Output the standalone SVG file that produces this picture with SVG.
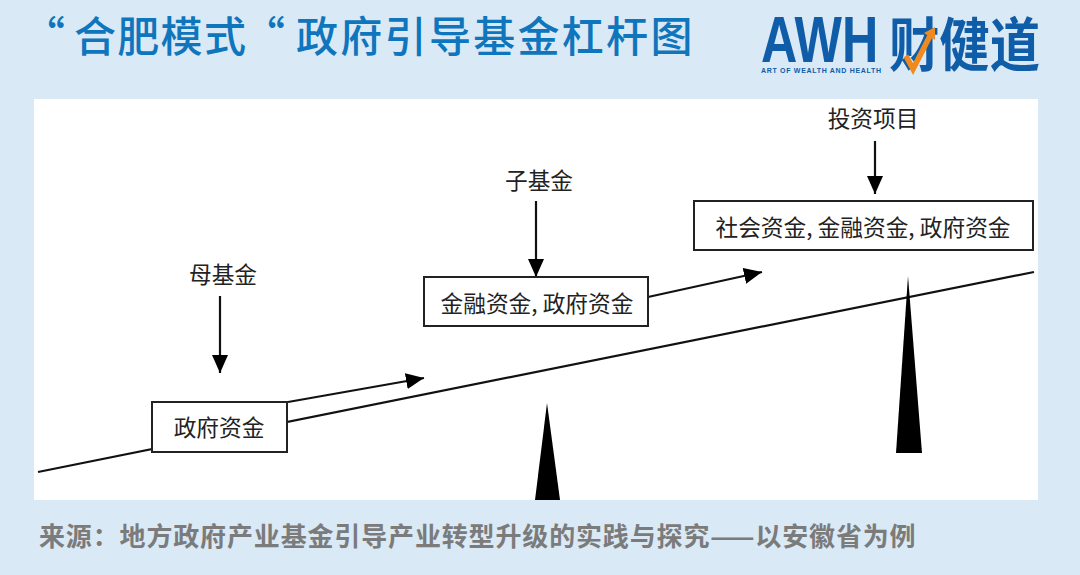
<svg xmlns="http://www.w3.org/2000/svg" width="1080" height="575" viewBox="0 0 1080 575">
<style>
text{font-family:"Noto Sans CJK SC","Noto Sans",sans-serif}
.lbl{font-size:22.7px;fill:#222;text-anchor:middle}
.box{fill:#fff;stroke:#222;stroke-width:2}
.ln{stroke:#111;stroke-width:2.2;fill:none}
.logo{fill:#0f5ca8}
.latin{font-family:"Liberation Sans",sans-serif;font-weight:700}
</style>
<defs>
<marker id="ah" markerUnits="userSpaceOnUse" markerWidth="20" markerHeight="18" refX="18" refY="8" orient="auto"><path d="M0 0L18 8L0 16Z" fill="#000"/></marker>
</defs>
<rect width="1080" height="575" fill="#d9e9f5"/>
<text id="title" y="52" font-size="42" fill="#0f75bc" font-weight="500"><tspan x="23">“</tspan><tspan x="74" letter-spacing="1.3">合肥模式</tspan><tspan x="243">“</tspan><tspan x="296" letter-spacing="2.3">政府引导基金杠杆图</tspan></text>
<g id="logo">
<text class="logo latin" font-size="64" transform="translate(761 62) scale(.785 1)">AWH</text>
<text class="logo latin" x="761" y="73" font-size="7" textLength="120">ART OF WEALTH AND HEALTH</text>
<text class="logo" x="889" y="66" font-size="58" font-weight="700" textLength="151" lengthAdjust="spacingAndGlyphs">财健道</text>
<path d="M906 56L913 69L931 34" fill="none" stroke="#f08a1d" stroke-width="5.5"/>
<path d="M924 33L935 27L935 40Z" fill="#f08a1d"/>
</g>
<rect id="panel" x="34" y="99" width="1004" height="401" fill="#fff"/>
<g id="connectors">
<line class="ln" x1="38" y1="472" x2="1034" y2="272"/>
<line class="ln" x1="220" y1="296" x2="220" y2="373" marker-end="url(#ah)"/>
<line class="ln" x1="536" y1="201" x2="536" y2="277" marker-end="url(#ah)"/>
<line class="ln" x1="875" y1="141" x2="875" y2="194" marker-end="url(#ah)"/>
<line class="ln" x1="288" y1="402" x2="424" y2="378" stroke-width="3" marker-end="url(#ah)"/>
<line class="ln" x1="648" y1="297" x2="762" y2="272" stroke-width="3" marker-end="url(#ah)"/>
</g>
<g id="fulcrum1"><path d="M547 403L535 500H560Z" fill="#000"/></g>
<g id="fulcrum2"><path d="M908 276L896 453H922Z" fill="#000"/></g>
<g id="label-mu"><text class="lbl" x="223" y="283">母基金</text></g>
<g id="label-zi"><text class="lbl" x="539" y="189">子基金</text></g>
<g id="label-xm"><text class="lbl" x="873" y="127">投资项目</text></g>
<g id="node-a"><rect class="box" x="152" y="402" width="135" height="50"/><text class="lbl" x="219" y="436">政府资金</text></g>
<g id="node-b"><rect class="box" x="424" y="277" width="224" height="49"/><text class="lbl" x="537" y="312">金融资金, 政府资金</text></g>
<g id="node-c"><rect class="box" x="694" y="201" width="339" height="49"/><text class="lbl" x="863" y="236">社会资金, 金融资金, 政府资金</text></g>
<text id="source" x="39" y="546" font-size="26" letter-spacing="0.85" font-weight="700" fill="#7b7b7b">来源：地方政府产业基金引导产业转型升级的实践与探究——以安徽省为例</text>
</svg>
